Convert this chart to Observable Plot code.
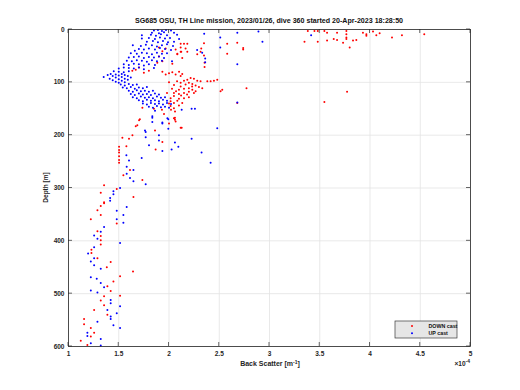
<!DOCTYPE html>
<html><head><meta charset="utf-8">
<script src="https://cdn.jsdelivr.net/npm/d3@7"></script>
<script src="https://cdn.jsdelivr.net/npm/@observablehq/plot@0.6"></script>
<style>
body{margin:0;background:#fff;}
#chart{width:520px;height:390px;}
</style></head><body><div id="chart"></div>
<script>
const titleText = "SG685 OSU, TH Line mission, 2023/01/26, dive 360 started 20-Apr-2023 18:28:50";
const xLabel = "Back Scatter [m";
const xLabelSup = "-1";
const yLabel = "Depth [m]";
const xTicks = [1, 1.5, 2, 2.5, 3, 3.5, 4, 4.5, 5];
const yTicks = [0, 100, 200, 300, 400, 500, 600];
const seriesNames = ["DOWN cast", "UP cast"];
const seriesColors = ["#ff0000", "#0000ff"];

// [back scatter (x1e-4 m^-1), depth (m)]
const downCast = [
[3.348,23],[3.381,3],[3.447,3],[3.48,3],[3.48,23],[3.546,3],[3.573,6],[3.573,21],[3.639,18],[3.672,6],[3.672,20],[3.732,25],[3.765,3],[3.765,9],[3.765,15],[3.765,18],[3.798,34],[3.831,21],[3.864,20],[3.93,6],[3.964,9],[3.964,12],[4.03,4],[4.063,11],[4.096,7],[4.219,15],[4.318,11],[4.54,9],[3.772,118],[3.546,137],
[2.116,27],[2.149,27],[2.182,27],[2.116,34],[2.165,36],[2.122,42],[2.182,42],[2.083,47],[2.321,36],[2.314,42],[2.348,49],[2.281,47],[2.354,63],[2.354,71],[2.579,27],[2.679,25],[2.738,35],[2.738,38],[2.579,46],[2.348,26],
[1.9,34],[1.934,41],[1.967,36],[2.066,38],[2.083,46],[2.116,42],[2.132,54],[1.9,51],[1.934,60],[1.884,63],[2.033,65],
[1.635,78],[1.669,76],[1.702,72],[1.75,82],[1.8,78],[1.934,80],[1.967,85],[2.0,83],[2.033,81],[2.066,85],[2.1,80],[2.132,84],[2.116,88],
[2.116,101],[2.149,97],[2.182,95],[2.215,92],[2.248,93],[2.281,97],[2.314,98],[2.381,98],[2.414,98],[2.447,97],[2.48,95],
[2.116,108],[2.165,104],[2.198,101],[2.232,103],[2.265,106],[2.298,109],
[2.099,114],[2.149,112],[2.198,111],[2.232,114],[2.265,117],[2.331,111],[2.53,114],
[2.049,120],[2.099,122],[2.149,120],[2.198,118],[2.248,120],[2.513,117],[2.771,111],
[2.016,130],[2.049,126],[2.099,131],[2.149,130],[2.198,128],
[2.016,136],[2.049,139],[2.083,135],[2.132,139],
[2.016,145],[2.049,149],[2.099,144],[2.679,139],
[2.0,100],[2.05,105],[2.08,98],[2.03,112],[2.07,117],[2.12,125],[2.18,123],[2.23,108],[2.0,140],[1.98,120],[2.06,155],[2.02,152],
[1.735,148],[1.85,150],[1.93,152],[2.049,168],[2.066,174],
[1.71,170],[1.685,181],[2.116,186],[1.95,160],
[2.059,167],[2.059,171],[1.702,172],[2.0,178],[2.126,186],[1.669,183],[1.861,191],[1.636,200],[1.934,213],[1.536,205],[1.602,207],[1.867,227],[1.503,222],[1.503,228],[1.576,221],[1.503,233],[1.503,240],[1.503,247],[1.503,252],
[1.612,266],[1.546,276],[1.735,285],[1.354,295],[1.48,302],[1.321,309],[1.646,317],[1.354,327],[1.354,329],[1.321,334],[1.288,342],[1.321,351],[1.222,359],[1.48,367],[1.288,382],[1.321,391],[1.321,399],[1.321,407],
[1.228,417],[1.228,423],[1.288,433],[1.42,440],[1.381,450],[1.642,458],[1.513,467],[1.447,477],[1.387,486],[1.42,495],[1.513,504],[1.354,505],[1.321,513],[1.354,522],[1.255,531],[1.387,540],[1.155,548],[1.155,558],[1.222,565],[1.255,574],[1.222,581],[1.122,589],[1.188,597]
];

const upCast = [
[1.85,2],[1.89,1],[1.93,3],[1.97,1],[2.02,2],
[1.83,6],[1.9,7],[1.95,5],[2.05,6],
[1.73,11],[1.82,10],[1.87,12],[1.92,9],[1.98,11],[2.08,10],[2.35,8],
[1.73,17],[1.8,16],[1.86,18],[1.91,15],[1.96,17],[2.01,16],[2.1,18],[2.51,15],
[1.78,23],[1.84,22],[1.89,24],[1.94,22],[1.99,24],[2.05,23],[2.93,23],[2.68,6],[2.89,4],[3.414,11],
[1.64,30],[1.72,31],[1.77,29],[1.83,30],[1.88,32],[1.93,30],[1.98,28],[2.04,31],
[1.66,40],[1.7,37],[1.75,38],[1.8,36],[1.86,38],[1.91,35],[1.96,37],[2.02,39],[2.28,39],[2.33,44],[2.51,34],
[1.62,45],[1.68,46],[1.73,44],[1.78,45],[1.83,47],[1.88,44],[1.93,46],[1.98,45],
[1.6,53],[1.65,52],[1.7,51],[1.75,54],[1.8,52],[1.85,53],[1.9,51],[1.95,54],[2.36,55],[2.36,62],
[1.58,59],[1.63,60],[1.68,58],[1.73,59],[1.78,61],[1.83,58],[1.88,60],[1.93,59],[2.03,60],[2.68,66],
[1.55,66],[1.6,67],[1.65,65],[1.7,66],[1.75,68],[1.8,66],[1.86,67],
[1.5,74],[1.55,72],[1.6,73],[1.65,74],[1.7,72],[1.75,75],[1.85,73],
[1.45,79],[1.5,80],[1.55,81],[1.6,79],
[1.35,90],[1.39,86],[1.41,93],[1.44,88],[1.44,96],[1.47,85],[1.47,91],[1.47,99],[1.5,87],[1.5,94],[1.5,101],[1.53,84],[1.53,90],[1.53,97],[1.56,86],[1.56,93],[1.56,100],[1.59,88],[1.59,95],[1.62,91],[1.42,84],
[1.52,104],[1.56,106],[1.6,103],[1.64,105],[1.68,104],
[1.54,110],[1.58,111],[1.62,109],[1.66,112],[1.7,110],[1.74,111],[1.78,109],
[1.6,116],[1.64,118],[1.68,115],[1.72,117],[1.76,116],[1.8,118],[1.84,116],
[1.62,122],[1.66,124],[1.7,121],[1.74,123],[1.78,122],[1.82,124],[1.86,121],[1.9,123],
[1.64,128],[1.68,130],[1.72,127],[1.76,129],[1.8,128],[1.84,130],[1.88,127],[1.92,129],[1.96,128],
[1.7,134],[1.74,136],[1.78,133],[1.82,135],[1.86,134],[1.9,136],[1.94,133],[1.98,135],
[1.74,140],[1.78,142],[1.82,139],[1.86,141],[1.9,140],[1.94,142],[1.98,139],[2.02,141],
[1.8,146],[1.84,148],[1.88,145],[1.92,147],[1.96,146],[2.0,148],[2.68,138],
[1.834,164],[1.934,176],[1.984,168],
[2.258,150],[2.225,150],[2.126,152],[1.861,154],[1.834,167],[1.834,175],[1.993,170],[1.934,178],[1.993,188],[2.48,187],[1.761,191],[1.768,194],[1.768,204],[1.9,200],[2.225,207],[1.9,210],[2.059,214],[1.801,219],[2.093,222],[2.026,227],[1.934,230],[1.728,243],[2.324,233],[2.414,252],[1.576,238],[1.602,248],
[1.579,260],[1.646,266],[1.579,273],[1.612,281],[1.646,287],[1.768,293],[1.513,300],[1.447,306],[1.447,312],[1.414,319],[1.414,324],[1.579,336],[1.48,343],[1.546,351],[1.48,359],[1.546,366],[1.354,374],[1.321,383],[1.255,390],[1.288,396],[1.513,404],
[1.255,412],[1.195,424],[1.255,433],[1.222,439],[1.255,446],[1.321,453],[1.222,469],[1.281,472],[1.321,480],[1.354,488],[1.222,494],[1.288,498],[1.42,512],[1.42,518],[1.513,524],[1.387,531],[1.48,537],[1.42,543],[1.42,548],[1.288,553],[1.447,560],[1.513,565],[1.188,574],[1.188,580],[1.321,586],[1.222,594],[1.321,598]
];

const rows = [
  ...downCast.map(([x, d]) => ({x, d, cast: seriesNames[0]})),
  ...upCast.map(([x, d]) => ({x, d, cast: seriesNames[1]}))
];

const W = 520, H = 390, ML = 68, MR = 50, MT = 29, MB = 44;
const font = "'Liberation Sans', Arial, Helvetica, sans-serif";

const plot = Plot.plot({
  width: W, height: H,
  marginLeft: ML, marginRight: MR, marginTop: MT, marginBottom: MB,
  style: {fontFamily: font, fontSize: "6.5px", fontWeight: "bold", color: "#262626", background: "#fff", overflow: "visible"},
  x: {domain: [1, 5]},
  y: {domain: [0, 600], reverse: true},
  color: {domain: seriesNames, range: seriesColors},
  marks: [
    Plot.gridX(xTicks, {stroke: "#e3e3e3", strokeOpacity: 1, strokeWidth: 0.8}),
    Plot.gridY(yTicks, {stroke: "#e3e3e3", strokeOpacity: 1, strokeWidth: 0.8}),
    Plot.axisX(xTicks, {tickSize: 0, tickPadding: 5, label: null, tickFormat: d => String(d), fill: "#262626"}),
    Plot.axisY(yTicks, {tickSize: 0, tickPadding: 4, label: null, tickFormat: d => String(d), fill: "#262626"}),
    Plot.dot(rows, {x: "x", y: "d", fill: "cast", r: 1.0, stroke: null}),
    Plot.frame({stroke: "#262626", strokeWidth: 0.8})
  ]
});
document.getElementById("chart").appendChild(plot);

const svg = d3.select(plot);
const sx = plot.scale("x"), sy = plot.scale("y");
const fx0 = ML, fx1 = W - MR, fy0 = MT, fy1 = H - MB;
const cx = (fx0 + fx1) / 2, cy = (fy0 + fy1) / 2;

// inward tick marks (MATLAB style), positioned through the plot's scales
const tk = svg.append("g").attr("stroke", "#262626").attr("stroke-width", 0.7);
xTicks.forEach(v => {
  const px = sx.apply(v);
  tk.append("line").attr("x1", px).attr("x2", px).attr("y1", fy1).attr("y2", fy1 - 4);
  tk.append("line").attr("x1", px).attr("x2", px).attr("y1", fy0).attr("y2", fy0 + 4);
});
yTicks.forEach(v => {
  const py = sy.apply(v);
  tk.append("line").attr("x1", fx0).attr("x2", fx0 + 4).attr("y1", py).attr("y2", py);
  tk.append("line").attr("x1", fx1).attr("x2", fx1 - 4).attr("y1", py).attr("y2", py);
});

svg.append("text").attr("x", cx).attr("y", fy0 - 6).attr("text-anchor", "middle")
  .attr("font-size", 7.1).attr("font-weight", "bold").attr("fill", "#111").text(titleText);

const xl = svg.append("text").attr("x", cx + 1).attr("y", fy1 + 20).attr("text-anchor", "middle")
  .attr("font-size", 7).attr("font-weight", "bold").attr("fill", "#262626");
xl.append("tspan").text(xLabel);
xl.append("tspan").attr("dy", -2.5).attr("font-size", 5).text(xLabelSup);
xl.append("tspan").attr("dy", 2.5).text("]");

const ex = svg.append("text").attr("x", fx1).attr("y", fy1 + 20).attr("text-anchor", "end")
  .attr("font-size", 6.5).attr("font-weight", "bold").attr("fill", "#262626");
ex.append("tspan").text("\u00d710");
ex.append("tspan").attr("dy", -3).attr("font-size", 5).text("-4");

svg.append("text").attr("transform", `translate(${fx0 - 20},${cy}) rotate(-90)`).attr("text-anchor", "middle")
  .attr("font-size", 6.5).attr("font-weight", "bold").attr("fill", "#262626").text(yLabel);

// legend
const lg = svg.append("g").attr("transform", `translate(${fx1 - 75},${fy1 - 25})`);
lg.append("rect").attr("width", 62).attr("height", 17).attr("fill", "#e6e6e6").attr("stroke", "#3a3a3a").attr("stroke-width", 0.7);
seriesNames.forEach((name, i) => {
  lg.append("circle").attr("cx", 17).attr("cy", 5 + i * 7.3).attr("r", 1.0).attr("fill", seriesColors[i]);
  lg.append("text").attr("x", 33.5).attr("y", 6.9 + i * 7.3).attr("text-anchor", "start")
    .attr("font-size", 5.3).attr("font-weight", "bold").attr("fill", "#111").text(name);
});
</script>
</body></html>
